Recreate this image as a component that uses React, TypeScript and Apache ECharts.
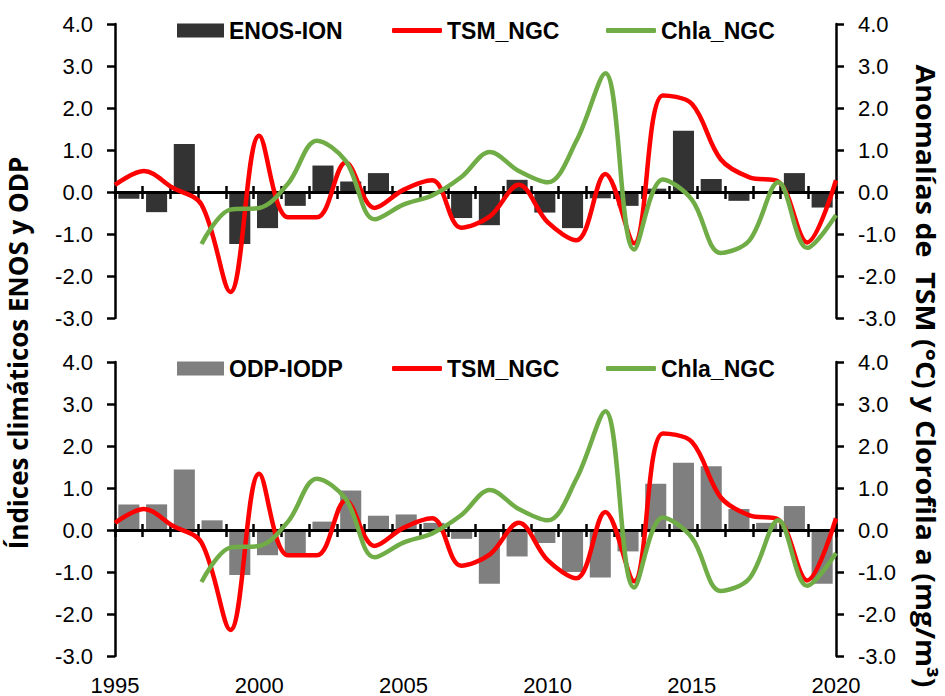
import React, { useEffect, useRef } from 'react';
import * as echarts from 'echarts';

// Categories (one bar slot per year)
const years = ['1995','1996','1997','1998','1999','2000','2001','2002','2003','2004','2005','2006','2007','2008','2009','2010','2011','2012','2013','2014','2015','2016','2017','2018','2019','2020'];

// Bar series
const enosIon = [-0.16,-0.48,1.14,0,-1.24,-0.86,-0.33,0.63,0.25,0.45,0,0,-0.62,-0.79,0.29,-0.49,-0.86,-0.15,-0.33,0.08,1.46,0.31,-0.21,0,0.45,-0.37];
const odpIodp = [0.61,0.61,1.44,0.23,-1.07,-0.6,-0.57,0.2,0.94,0.34,0.37,0.17,-0.21,-1.28,-0.63,-0.31,-1.0,-1.13,-0.51,1.1,1.6,1.52,0.5,0.17,0.57,-1.28];

// Line series
const tsmYears = [1995,1996,1997,1998,1999,2000,2001,2002,2003,2004,2005,2006,2007,2008,2009,2010,2011,2012,2013,2014,2015,2016,2017,2018,2019,2020];
const tsmNgc = [0.17,0.5,0.1,-0.3,-2.38,1.34,-0.6,-0.6,0.7,-0.38,0.05,0.28,-0.85,-0.58,0.17,-0.72,-1.15,0.43,-1.22,2.3,2.1,0.78,0.35,0.25,-1.2,0.28];
const chlaYears = [1998,1999,2000,2001,2002,2003,2004,2005,2006,2007,2008,2009,2010,2011,2012,2013,2014,2015,2016,2017,2018,2019,2020];
const chlaNgc = [-1.24,-0.42,-0.38,0.2,1.22,0.74,-0.65,-0.3,-0.08,0.35,0.95,0.5,0.23,1.22,2.83,-1.37,0.3,-0.18,-1.45,-1.15,0.23,-1.33,-0.55];

// Axis extents
const yMin = -3;
const yMax = 4;
const xMin = 1995;
const xMax = 2020;

const FONT = '"Liberation Sans", Arial, sans-serif';

export default function App() {
  const ref = useRef<HTMLDivElement>(null);
  useEffect(() => {
    if (!ref.current) return;
    const chart = echarts.init(ref.current, undefined, { renderer: 'svg' });

    const grids = [
      { left: 115, right: 109, top: 24, height: 294 },
      { left: 115, right: 109, top: 362, height: 296 },
    ];

    const yAx = (gridIndex: number, position: string) => ({
      type: 'value', gridIndex, position, min: yMin, max: yMax, interval: 1,
      axisLine: { show: true, onZero: false, lineStyle: { color: '#000', width: 2.5 } },
      axisTick: { show: true, inside: false, length: 8, lineStyle: { color: '#000', width: 2.5 } },
      axisLabel: { show: true, margin: 22, color: '#000', fontSize: 22, fontFamily: FONT, formatter: (v: number) => v.toFixed(1) },
      splitLine: { show: false },
    });

    const catAx = (gridIndex: number, position: string, len: number) => ({
      type: 'category', gridIndex, position, data: years, boundaryGap: true, z: 3,
      axisLine: { show: true, onZero: true, lineStyle: { color: '#000', width: 3 } },
      axisTick: { show: true, interval: 0, inside: false, length: len, lineStyle: { color: '#000', width: 2.5 } },
      axisLabel: { show: false },
      splitLine: { show: false },
    });

    const valAx = (gridIndex: number, showLabel: boolean) => ({
      type: 'value', gridIndex, position: 'bottom', min: xMin, max: xMax, interval: 5,
      axisLine: { show: false, onZero: false },
      axisTick: { show: false },
      splitLine: { show: false },
      axisLabel: { show: showLabel, margin: 18, color: '#000', fontSize: 22, fontFamily: FONT, showMinLabel: true, showMaxLabel: true, formatter: (v: number) => String(v) },
    });

    const lineSeries = (name: string, xs: number[], vs: number[], color: string, xi: number, yi: number) => ({
      name, type: 'line', xAxisIndex: xi, yAxisIndex: yi,
      data: xs.map((x, i) => [x, vs[i]]),
      smooth: 0.35, symbol: 'none', showSymbol: false, z: 5,
      color,
      itemStyle: { color },
      lineStyle: { color, width: 4.5 },
    });

    const legendText = { fontSize: 23, fontWeight: 'bold', color: '#000', fontFamily: FONT };
    const legends: any[] = [];
    [19, 357].forEach((top, gi) => {
      legends.push({ left: 177, top, padding: 0, data: [gi === 0 ? 'ENOS-ION' : 'ODP-IODP'], icon: 'rect', itemWidth: 47, itemHeight: 14, textStyle: legendText, selectedMode: false });
      legends.push({ left: 392, top, padding: 0, data: ['TSM_NGC'], icon: 'roundRect', itemWidth: 50, itemHeight: 5, itemStyle: { borderWidth: 0 }, textStyle: legendText, selectedMode: false });
      legends.push({ left: 606, top, padding: 0, data: ['Chla_NGC'], icon: 'roundRect', itemWidth: 50, itemHeight: 5, itemStyle: { borderWidth: 0 }, textStyle: legendText, selectedMode: false });
    });

    const nameStyle = { fontSize: 26, fontWeight: 'bold', fontFamily: '"Open Sans", sans-serif', fill: '#000', align: 'center', verticalAlign: 'middle', textAlign: 'center', textVerticalAlign: 'middle' };

    chart.setOption({
      animation: false,
      backgroundColor: '#ffffff',
      grid: grids,
      legend: legends,
      xAxis: [catAx(0, 'bottom', 7), catAx(0, 'top', 6), valAx(0, false), catAx(1, 'bottom', 7), catAx(1, 'top', 6), valAx(1, true)],
      yAxis: [yAx(0, 'left'), yAx(0, 'right'), yAx(1, 'left'), yAx(1, 'right')],
      series: [
        { name: 'ENOS-ION', type: 'bar', xAxisIndex: 0, yAxisIndex: 0, data: enosIon, barWidth: '76%', itemStyle: { color: '#333333' }, color: '#333333', z: 1 },
        lineSeries('TSM_NGC', tsmYears, tsmNgc, '#FF0000', 2, 1),
        lineSeries('Chla_NGC', chlaYears, chlaNgc, '#70AD47', 2, 1),
        { name: 'ODP-IODP', type: 'bar', xAxisIndex: 3, yAxisIndex: 2, data: odpIodp, barWidth: '76%', itemStyle: { color: '#7F7F7F' }, color: '#7F7F7F', z: 1 },
        lineSeries('TSM_NGC', tsmYears, tsmNgc, '#FF0000', 5, 3),
        lineSeries('Chla_NGC', chlaYears, chlaNgc, '#70AD47', 5, 3),
      ],
      graphic: [
        { type: 'text', x: 18, y: 353, rotation: Math.PI / 2, scaleX: 1.0, style: { ...nameStyle, text: 'Índices climáticos ENOS y ODP' } },
        { type: 'text', x: 926, y: 376, rotation: -Math.PI / 2, scaleX: 1.1, style: { ...nameStyle, text: 'Anomalías de  TSM (°C) y Clorofila a (mg/m³)' } },
      ],
    });
    return () => chart.dispose();
  }, []);
  return <div ref={ref} style={{ position: 'fixed', left: 0, top: 0, width: 945, height: 696, background: '#fff' }} />;
}
